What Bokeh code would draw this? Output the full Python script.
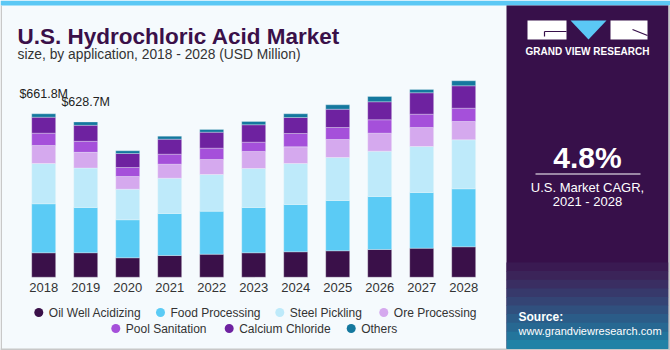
from bokeh.plotting import figure
from bokeh.models import Range1d, ColumnDataSource
from bokeh.core.properties import value
from bokeh.embed import file_html
from bokeh.resources import INLINE

# ---------------- data ----------------
years = [2018, 2019, 2020, 2021, 2022, 2023, 2024, 2025, 2026, 2027, 2028]
oil_well = [98.8, 99.0, 78.6, 87.9, 93.2, 98.8, 102.9, 106.9, 112.2, 117.5, 123.1]
food = [198.5, 183.7, 153.9, 170.1, 174.2, 183.5, 191.6, 203.7, 214.7, 225.6, 234.9]
steel = [163.3, 159.4, 123.9, 143.0, 148.6, 158.0, 166.0, 174.2, 183.5, 186.3, 198.5]
ore = [72.9, 63.7, 51.4, 56.7, 60.8, 68.9, 67.6, 72.9, 72.9, 77.0, 74.1]
pool = [49.8, 44.6, 36.5, 40.5, 45.8, 37.7, 53.9, 48.6, 54.3, 53.9, 53.9]
calcium = [64.8, 64.9, 56.7, 60.8, 64.8, 70.5, 64.8, 74.1, 72.9, 86.7, 90.7]
others = [13.7, 13.4, 10.9, 12.2, 11.0, 13.4, 15.0, 17.8, 21.5, 13.4, 20.3]

series_names = ["Oil Well Acidizing", "Food Processing", "Steel Pickling", "Ore Processing",
                "Pool Sanitation", "Calcium Chloride", "Others"]
series_colors = ["#3A1049", "#5BCBF5", "#BEEAFA", "#D5A9EE", "#A550DA", "#6E22A0", "#14789E"]
label_years = [2018, 2019]
label_texts = ["$661.8M", "$628.7M"]
title = "U.S. Hydrochloric Acid Market"
subtitle = "size, by application, 2018 - 2028 (USD Million)"
cagr = "4.8%"
cagr_text = ["U.S. Market CAGR,", "2021 - 2028"]

# ---------------- figure ----------------
BG = "#F5FAFD"
PANEL = "#37104A"
FONT = "Liberation Sans"

p = figure(width=670, height=350, x_range=Range1d(0, 670), y_range=Range1d(350, 0),
           min_border=0, toolbar_location=None, output_backend="svg",
           x_axis_type=None, y_axis_type=None,
           background_fill_color=BG, border_fill_color=BG, outline_line_color=None)
p.grid.visible = False

# bar scales: 42 px per year, 2018 centred at x=43.2; value 0 at y=276.7, 0.2469 px per million
px_per_year = 42.0
x0 = years[0] - 43.2 / px_per_year
p.extra_x_ranges = {"bx": Range1d(x0, x0 + 670 / px_per_year)}
s = 0.2469
p.extra_y_ranges = {"by": Range1d(-(350 - 276.7) / s, 276.7 / s)}

# frame decorations
p.quad(left=0, right=670, top=0, bottom=5, color="#5BC8F5", line_color=None)
p.quad(left=0, right=1.5, top=5, bottom=350, color="#C8C8C8", line_color=None)
p.quad(left=0, right=670, top=348, bottom=350, color="#C8C8C8", line_color=None)

# stacked bars
keys = ["oil", "food", "steel", "ore", "pool", "calcium", "others"]
src = ColumnDataSource(dict(year=years, oil=oil_well, food=food, steel=steel, ore=ore,
                            pool=pool, calcium=calcium, others=others))
p.vbar_stack(keys, x="year", width=0.57, color=series_colors, source=src,
             line_color="#F5FAFD", line_width=0.6, line_alpha=0.5,
             x_range_name="bx", y_range_name="by")

# year labels
p.text(x=years, y=[0] * len(years), text=[str(y) for y in years],
       x_range_name="bx", y_range_name="by", y_offset=10,
       text_font=value(FONT), text_font_size="13px", text_color="#333333",
       text_align="center", text_baseline="middle")

# total labels
totals = [oil_well[i] + food[i] + steel[i] + ore[i] + pool[i] + calcium[i] + others[i]
          for i in range(len(years))]
p.text(x=label_years, y=[totals[years.index(y)] for y in label_years], text=label_texts,
       x_range_name="bx", y_range_name="by", y_offset=-13,
       text_font=value(FONT), text_font_size="12.5px", text_color="#222222",
       text_align="center", text_baseline="bottom")

# title & subtitle
p.text(x=[17], y=[36], text=[title], text_font=value(FONT), text_font_style="bold",
       text_font_size="22.5px", text_color="#3A1049", text_baseline="alphabetic")
p.text(x=[17], y=[54], text=[subtitle], text_font=value(FONT),
       text_font_size="13.8px", text_color="#333333", text_baseline="alphabetic")

# legend
row1 = [(38.3, 0), (160, 1), (279.3, 2), (383.3, 3)]
row2 = [(115.3, 4), (228.7, 5), (350.7, 6)]
for yy, row in ((312, row1), (328, row2)):
    xs = [r[0] for r in row]
    idx = [r[1] for r in row]
    p.scatter(x=xs, y=[yy] * len(xs), size=9, color=[series_colors[i] for i in idx],
              line_color=None)
    p.text(x=[x + 10 for x in xs], y=[yy] * len(xs), text=[series_names[i] for i in idx],
           text_font=value(FONT), text_font_size="12px", text_color="#333333",
           text_baseline="middle")

# right panel
PL, PR = 506, 668
p.quad(left=PL, right=PR, top=5, bottom=348, color=PANEL, line_color=None)
bands = ["#3A1A52", "#3B2459", "#3A2E62", "#37396B", "#344474", "#30507E", "#2B5C88",
         "#276892", "#23759C", "#2082A6"]
for i, c in enumerate(bands):
    p.quad(left=PL, right=PR, top=262 + i * 8.6, bottom=262 + (i + 1) * 8.6 + 0.5,
           color=c, line_color=None)
p.quad(left=PR, right=670, top=5, bottom=350, color="#C8C8C8", line_color=None)

# logo
p.quad(left=[527, 610], right=[566, 647], top=[20, 20], bottom=[39, 39],
       color="white", line_color=None)
p.patch(x=[570, 606, 588], y=[20, 20, 39], color="#5BC8F5", line_color=None)
p.segment(x0=[544], y0=[31], x1=[566], y1=[31], line_color=PANEL, line_width=1.2)
p.segment(x0=[544], y0=[31], x1=[544], y1=[36], line_color=PANEL, line_width=1.2)
p.segment(x0=[632], y0=[29], x1=[647], y1=[35], line_color=PANEL, line_width=1.2)
p.text(x=[587], y=[51], text=["GRAND VIEW RESEARCH"], text_font=value(FONT),
       text_font_style="bold", text_font_size="10px", text_color="white",
       text_align="center", text_baseline="middle")

# CAGR
p.text(x=[587], y=[157], text=[cagr], text_font=value(FONT), text_font_style="bold",
       text_font_size="30px", text_color="white", text_align="center", text_baseline="middle")
p.segment(x0=[535], y0=[173.5], x1=[640], y1=[173.5], line_color="white", line_width=1.2)
p.text(x=[587, 587], y=[187, 201], text=cagr_text, text_font=value(FONT),
       text_font_size="13px", text_color="white", text_align="center", text_baseline="middle")

# source
p.text(x=[518], y=[316], text=["Source:"], text_font=value(FONT), text_font_style="bold",
       text_font_size="12px", text_color="white", text_baseline="middle")
p.text(x=[518], y=[330], text=["www.grandviewresearch.com"], text_font=value(FONT),
       text_font_size="11px", text_color="white", text_baseline="middle")

open("out.html", "w").write(file_html(p, INLINE))
